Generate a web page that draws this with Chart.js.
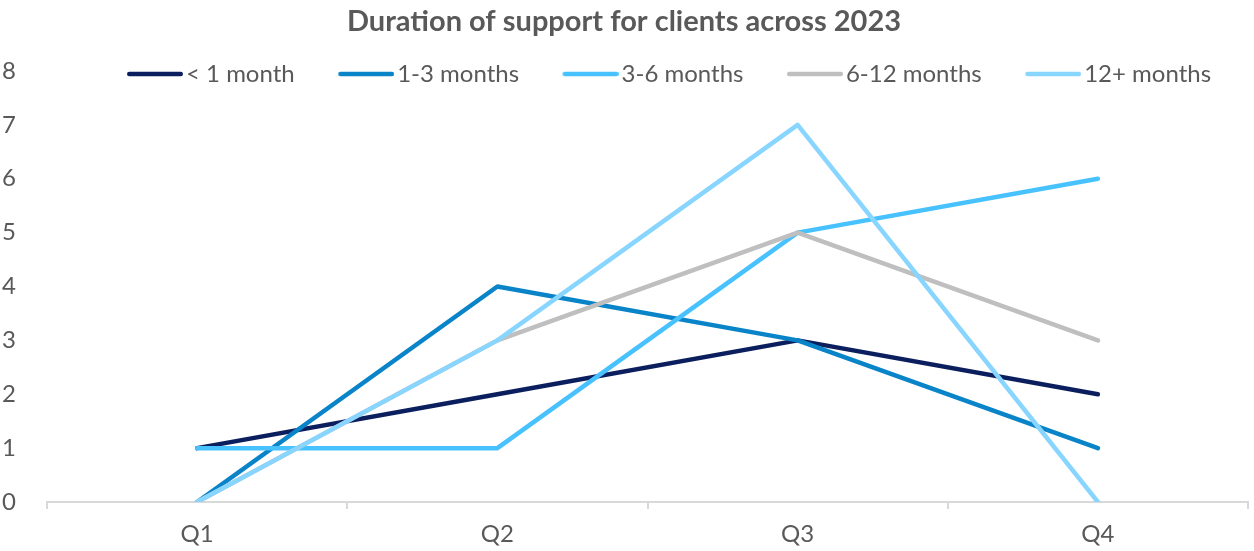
<!DOCTYPE html>
<html>
<head>
<meta charset="utf-8">
<title>Duration of support for clients across 2023</title>
<script src="https://cdn.jsdelivr.net/npm/chart.js@4.4.0/dist/chart.umd.min.js"></script>
<style>
  html, body { margin: 0; padding: 0; background: #ffffff; }
  .chart-box { width: 1254px; height: 551px; position: relative; }
</style>
</head>
<body>
<div class="chart-box"><canvas id="myChart"></canvas></div>
<script>
const quarters = ['Q1', 'Q2', 'Q3', 'Q4'];
const seriesNames = ['< 1 month', '1-3 months', '3-6 months', '6-12 months', '12+ months'];
const underOneMonth = [1, 2, 3, 2];
const oneToThree = [0, 4, 3, 1];
const threeToSix = [1, 1, 5, 6];
const sixToTwelve = [0, 3, 5, 3];
const twelvePlus = [0, 3, 7, 0];
const yTicks = [0, 1, 2, 3, 4, 5, 6, 7, 8];

const seriesValues = [underOneMonth, oneToThree, threeToSix, sixToTwelve, twelvePlus];
const lineColors = ['#0B1F5E', '#0A84C8', '#47C2FF', '#BFBFBF', '#88D5FF'];
const textGray = '#595959';
const axisGray = '#D9D9D9';

Chart.defaults.font.family = 'Lato';

// legend swatch: a short rounded line ending just before the label text,
// the blank left part of the image gives the gap between entries
function legendIcon(color) {
  const c = document.createElement('canvas');
  c.width = 108;
  c.height = 8;
  const g = c.getContext('2d');
  g.strokeStyle = color;
  g.lineWidth = 4.5;
  g.lineCap = 'round';
  g.beginPath();
  g.moveTo(54.25, 4);
  g.lineTo(105.75, 4);
  g.stroke();
  return c;
}
const icons = lineColors.map(legendIcon);

// the legend row sits level with the top tick, so place it after layout
const legendPlace = {
  id: 'legendPlace',
  afterLayout(chart) {
    const lg = chart.legend;
    const h = lg.bottom - lg.top;
    const w = lg.right - lg.left;
    lg.top = 61.5;
    lg.bottom = 61.5 + h;
    lg.left = 83.5;
    lg.right = 83.5 + w;
  }
};

const datasets = seriesNames.map((name, i) => ({
  label: name,
  data: seriesValues[i],
  borderColor: lineColors[i],
  backgroundColor: lineColors[i],
  borderWidth: 4.5,
  borderCapStyle: 'round',
  borderJoinStyle: 'round',
  pointRadius: 0,
  pointHoverRadius: 0,
  tension: 0,
  fill: false,
  order: seriesNames.length - i   // later series drawn on top
}));

const ctx = document.getElementById('myChart');
const myChart = new Chart(ctx, {
  type: 'line',
  data: {
    labels: quarters,
    datasets: datasets
  },
  plugins: [legendPlace],
  options: {
    responsive: true,
    maintainAspectRatio: false,
    animation: false,
    layout: {
      padding: { left: 0, right: 6, top: 0, bottom: 0 }
    },
    scales: {
      x: {
        offset: true,
        grid: {
          display: true,
          offset: true,
          drawOnChartArea: false,
          drawTicks: true,
          tickLength: 7,
          color: axisGray,
          lineWidth: 2
        },
        border: { display: true, color: axisGray, width: 2 },
        afterFit: (scale) => {
          scale.height = 49;
        },
        ticks: {
          color: textGray,
          font: { size: 24 },
          padding: 11
        }
      },
      y: {
        min: 0,
        max: 8,
        grid: { display: false },
        border: { display: false },
        afterBuildTicks: (scale) => {
          scale.ticks = yTicks.map(v => ({ value: v }));
        },
        afterFit: (scale) => {
          scale.width = 47;
        },
        ticks: {
          color: textGray,
          font: { size: 24 },
          padding: 23
        }
      }
    },
    plugins: {
      title: {
        display: true,
        text: 'Duration of support for clients across 2023',
        color: textGray,
        font: { size: 29, weight: 'bold', lineHeight: 1 },
        padding: { top: 7.5, bottom: 0 }
      },
      legend: {
        position: 'top',
        align: 'start',
        labels: {
          color: textGray,
          font: { size: 24 },
          usePointStyle: true,
          pointStyleWidth: 90,
          padding: 0.5,
          sort: (a, b) => a.datasetIndex - b.datasetIndex,
          generateLabels: (chart) => {
            const items = Chart.defaults.plugins.legend.labels.generateLabels(chart);
            items.forEach(item => { item.pointStyle = icons[item.datasetIndex]; });
            return items;
          }
        }
      },
      tooltip: { enabled: false }
    }
  }
});
</script>
</body>
</html>
